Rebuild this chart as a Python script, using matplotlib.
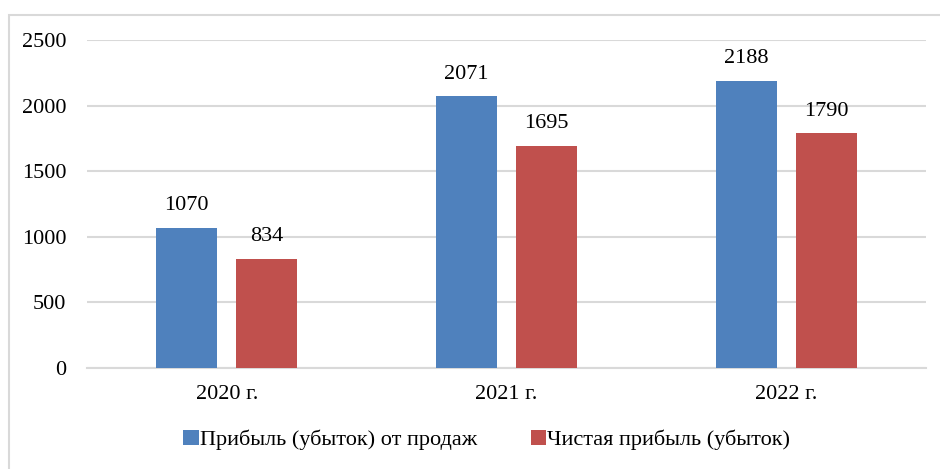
import numpy as np
import matplotlib.pyplot as plt
from matplotlib.patches import Rectangle

years = ['2020 г.', '2021 г.', '2022 г.']
sales_profit = [1070, 2071, 2188]
net_profit = [834, 1695, 1790]
series_names = ['Прибыль (убыток) от продаж', 'Чистая прибыль (убыток)']
yticks = [0, 500, 1000, 1500, 2000, 2500]

blue = '#4F81BD'
red = '#C0504D'

plt.rcParams['font.family'] = ['Liberation Serif', 'DejaVu Serif']
plt.rcParams['font.size'] = 16

fig = plt.figure(figsize=(9.4, 4.69), dpi=100)
ax = fig.add_axes([87 / 940, 1 - 368 / 469, (926 - 87) / 940, (368 - 40) / 469])

# рамка вокруг диаграммы
fig.patches.append(Rectangle((9 / 940, -0.05), 1.0, 1 - 15 / 469 + 0.05,
                             transform=fig.transFigure, fill=False,
                             edgecolor='#d9d9d9', linewidth=1.5))

x = np.arange(len(years))
w = 0.218
off = 0.143
b1 = ax.bar(x - off, sales_profit, w, color=blue, label=series_names[0], zorder=3)
b2 = ax.bar(x + off, net_profit, w, color=red, label=series_names[1], zorder=3)
ax.bar_label(b1, padding=9)
ax.bar_label(b2, padding=9)

ax.set_xlim(-0.5, 2.5)
ax.set_ylim(0, 2500)
ax.set_yticks(yticks)
ax.set_xticks(x)
ax.set_xticklabels(years)
ax.grid(axis='y', color='#d9d9d9', linewidth=1.5, zorder=0)
for s in ['top', 'right', 'left']:
    ax.spines[s].set_visible(False)
ax.spines['bottom'].set_color('#d9d9d9')
ax.spines['bottom'].set_linewidth(1.5)
ax.tick_params(axis='both', length=0)
ax.tick_params(axis='y', pad=15)
ax.tick_params(axis='x', pad=12)

fig.legend(loc='center', bbox_to_anchor=(0.518, 1 - 440 / 469), ncol=2, frameon=False,
           handlelength=0.7, handleheight=0.7, handletextpad=0.05, columnspacing=2.4)

fig.savefig('out.png', dpi=100)
